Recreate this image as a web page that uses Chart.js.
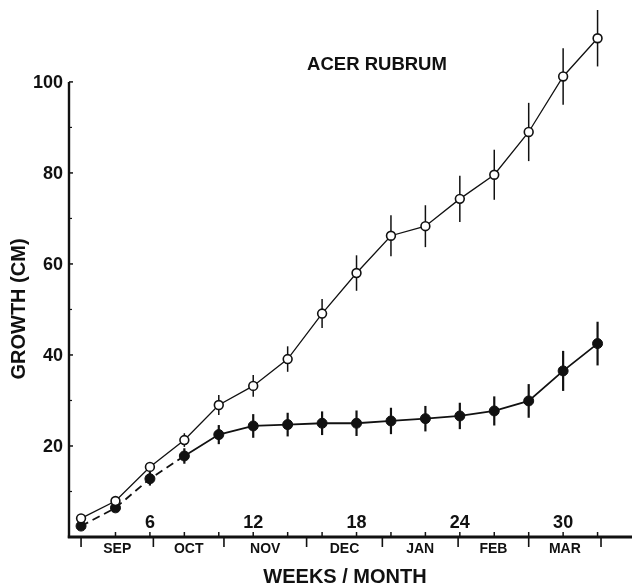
<!DOCTYPE html>
<html><head><meta charset="utf-8">
<style>html,body{margin:0;padding:0;background:#fff;}#wrap{width:632px;height:588px;position:relative;}</style>
<script src="https://cdn.jsdelivr.net/npm/chart.js@4.4.1/dist/chart.umd.min.js"></script>
</head><body><div id="wrap"><canvas id="c" width="632" height="588"></canvas></div>
<script>
// ---- data ----
const weeks = [2, 4, 6, 8, 10, 12, 14, 16, 18, 20, 22, 24, 26, 28, 30, 32];
const growthOpen = [4.1, 7.9, 15.4, 21.3, 29.0, 33.2, 39.1, 49.1, 58.0, 66.2, 68.3, 74.3, 79.6, 89.0, 101.2, 109.6];
const errOpen = [0.8, 0.8, 1.0, 1.5, 2.2, 2.4, 2.8, 3.2, 3.9, 4.5, 4.6, 5.1, 5.5, 6.4, 6.2, 6.2];
const growthFilled = [2.4, 6.4, 12.8, 17.8, 22.5, 24.4, 24.7, 25.0, 25.0, 25.5, 26.0, 26.6, 27.7, 29.9, 36.5, 42.5];
const errFilled = [0.8, 0.8, 1.5, 1.7, 2.1, 2.6, 2.6, 2.6, 2.8, 2.9, 2.8, 2.9, 3.2, 3.7, 4.4, 4.8];

const yTickLabels = [20, 40, 60, 80, 100];
const yMinorTicks = [10, 30, 50, 70, 90];
const xTickLabels = [6, 12, 18, 24, 30];
const xMinorTicks = [4, 6, 8, 10, 12, 14, 16, 18, 20, 22, 24, 26, 28, 30, 32];
const monthNames = ['SEP', 'OCT', 'NOV', 'DEC', 'JAN', 'FEB', 'MAR'];
const monthBounds = [2, 6.2, 10.3, 15.1, 19.5, 23.9, 28, 32.2];
const chartTitle = 'ACER RUBRUM';
const xTitle = 'WEEKS / MONTH';
const yTitle = 'GROWTH (CM)';

const FONT = '"Liberation Sans", Arial, Helvetica, sans-serif';
const INK = '#111';

const errorBars = {
  id: 'errorBars',
  beforeDatasetsDraw(chart) {
    const ctx = chart.ctx, xs = chart.scales.x, ys = chart.scales.y;
    const sets = [[growthOpen, errOpen, 1.5], [growthFilled, errFilled, 2.2]];
    ctx.save();
    ctx.strokeStyle = INK;
    sets.forEach(([vals, errs, lw]) => {
      ctx.lineWidth = lw;
      vals.forEach((v, i) => {
        const x = xs.getPixelForValue(weeks[i]);
        ctx.beginPath();
        ctx.moveTo(x, ys.getPixelForValue(v - errs[i]));
        ctx.lineTo(x, ys.getPixelForValue(v + errs[i]));
        ctx.stroke();
      });
    });
    ctx.restore();
  }
};

const axesPlugin = {
  id: 'axesPlugin',
  beforeDatasetsDraw(chart) {
    const ctx = chart.ctx, xs = chart.scales.x, ys = chart.scales.y, ca = chart.chartArea;
    const y0 = ys.getPixelForValue(0);
    const xl = ca.left;
    ctx.save();
    ctx.strokeStyle = INK; ctx.fillStyle = INK;
    // y axis line up to 100
    ctx.lineWidth = 2.4;
    ctx.beginPath();
    ctx.moveTo(xl, y0 + 1);
    ctx.lineTo(xl, ys.getPixelForValue(yTickLabels[yTickLabels.length - 1]));
    ctx.stroke();
    // x axis line
    ctx.lineWidth = 3;
    ctx.beginPath();
    ctx.moveTo(xl - 1.2, y0);
    ctx.lineTo(ca.right, y0);
    ctx.stroke();
    // y ticks
    ctx.lineWidth = 1.5;
    yTickLabels.forEach(v => {
      const y = ys.getPixelForValue(v);
      ctx.beginPath(); ctx.moveTo(xl, y); ctx.lineTo(xl + 4, y); ctx.stroke();
    });
    ctx.lineWidth = 1.2;
    yMinorTicks.forEach(v => {
      const y = ys.getPixelForValue(v);
      ctx.beginPath(); ctx.moveTo(xl, y); ctx.lineTo(xl + 3, y); ctx.stroke();
    });
    // y labels
    ctx.font = 'bold 18px ' + FONT;
    ctx.textAlign = 'right'; ctx.textBaseline = 'middle';
    yTickLabels.forEach(v => ctx.fillText(String(v), xl - 6, ys.getPixelForValue(v) + 1));
    // x minor ticks above axis
    ctx.lineWidth = 1.5;
    xMinorTicks.forEach(w => {
      const x = xs.getPixelForValue(w);
      ctx.beginPath(); ctx.moveTo(x, y0); ctx.lineTo(x, y0 - 5); ctx.stroke();
    });
    // month boundary ticks below axis
    ctx.lineWidth = 1.6;
    monthBounds.forEach(w => {
      const x = xs.getPixelForValue(w);
      ctx.beginPath(); ctx.moveTo(x, y0); ctx.lineTo(x, y0 + 10); ctx.stroke();
    });
    // week labels above axis
    ctx.font = 'bold 18px ' + FONT;
    ctx.textAlign = 'center'; ctx.textBaseline = 'alphabetic';
    xTickLabels.forEach(w => ctx.fillText(String(w), xs.getPixelForValue(w), y0 - 9));
    // month labels
    ctx.font = 'bold 14px ' + FONT;
    ctx.textBaseline = 'middle';
    monthNames.forEach((m, i) => {
      const mid = (monthBounds[i] + monthBounds[i + 1]) / 2;
      ctx.fillText(m, xs.getPixelForValue(mid), y0 + 12);
    });
    // axis titles
    ctx.font = 'bold 20px ' + FONT;
    ctx.fillText(xTitle, 345, 577);
    ctx.save();
    ctx.translate(19, 309);
    ctx.rotate(-Math.PI / 2);
    ctx.fillText(yTitle, 0, 0);
    ctx.restore();
    // chart title
    ctx.font = 'bold 18.5px ' + FONT;
    ctx.fillText(chartTitle, 377, 65);
    ctx.restore();
  }
};

new Chart(document.getElementById('c'), {
  type: 'line',
  data: {
    datasets: [
      {
        label: 'open',
        data: weeks.map((w, i) => ({ x: w, y: growthOpen[i] })),
        borderColor: INK, borderWidth: 1.3,
        pointRadius: 4.4, pointBackgroundColor: '#fff', pointBorderColor: INK, pointBorderWidth: 1.6,
        tension: 0, clip: false
      },
      {
        label: 'filled',
        data: weeks.map((w, i) => ({ x: w, y: growthFilled[i] })),
        borderColor: INK, borderWidth: 1.8,
        pointRadius: 5, pointBackgroundColor: INK, pointBorderColor: INK, pointBorderWidth: 1,
        tension: 0, clip: false,
        segment: { borderDash: c => (c.p0DataIndex < 3 ? [8, 5] : undefined) }
      }
    ]
  },
  options: {
    responsive: false, animation: false, devicePixelRatio: 1,
    layout: { autoPadding: false, padding: { left: 69, right: 0, top: 0, bottom: 51 } },
    plugins: { legend: { display: false }, tooltip: { enabled: false }, title: { display: false } },
    scales: {
      x: { type: 'linear', min: 1.3, max: 34, display: false },
      y: { type: 'linear', min: 0, max: 118, display: false }
    }
  },
  plugins: [axesPlugin, errorBars]
});
</script></body></html>
